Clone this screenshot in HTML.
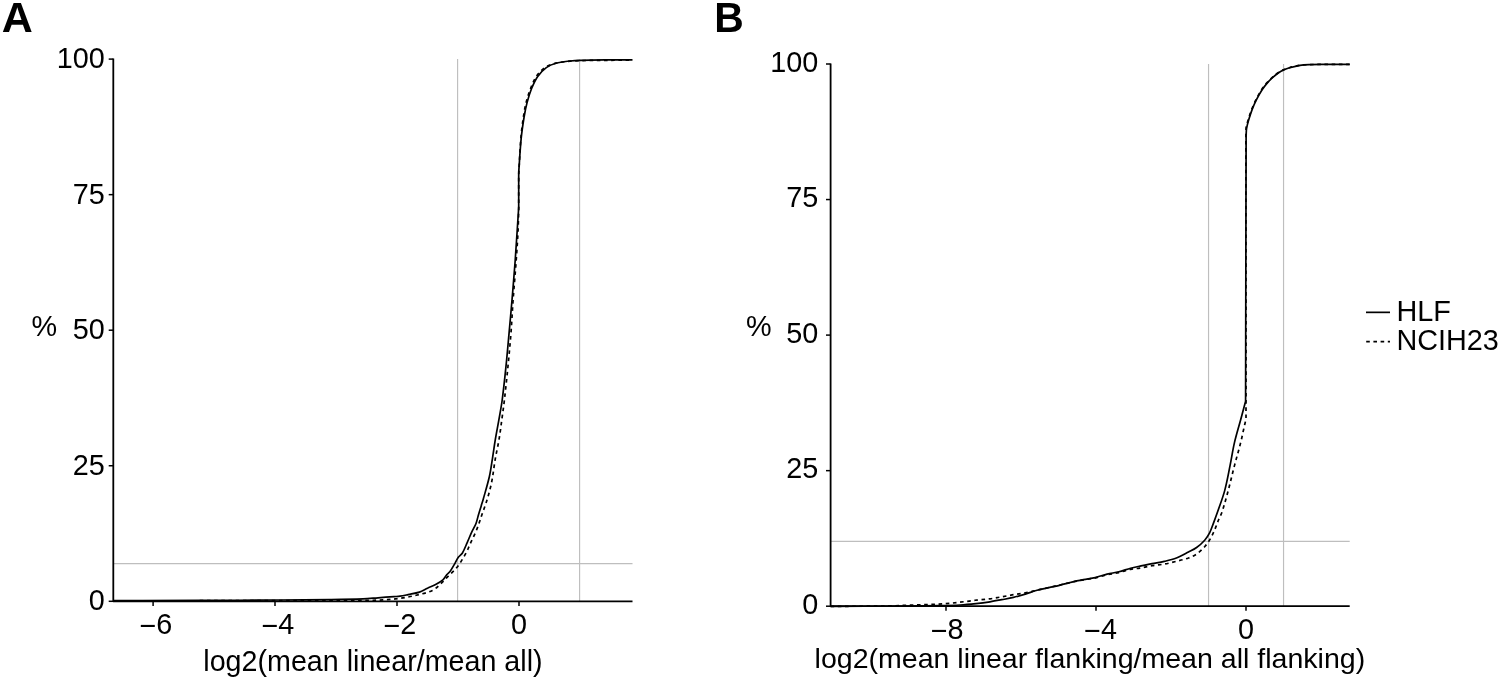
<!DOCTYPE html>
<html><head><meta charset="utf-8"><title>Cumulative distribution</title>
<style>html,body{margin:0;padding:0;background:#fff;} svg{display:block;will-change:transform;}</style></head>
<body>
<svg width="1499" height="680" viewBox="0 0 1499 680" font-family="&quot;Liberation Sans&quot;, sans-serif" fill="#000">
<rect width="1499" height="680" fill="#fff"/>
<line x1="457.6" y1="59.1" x2="457.6" y2="601.3" stroke="#bebebe" stroke-width="1.15"/>
<line x1="579.6" y1="59.1" x2="579.6" y2="601.3" stroke="#bebebe" stroke-width="1.15"/>
<line x1="113.3" y1="563.55" x2="632.5" y2="563.55" stroke="#bebebe" stroke-width="1.15"/>
<path d="M113.30,600.80 C175.53,600.73 237.77,600.72 300.00,600.60 C322.67,600.56 345.33,600.49 368.00,600.30 C373.00,600.26 378.00,600.15 383.00,599.90 C387.21,599.69 391.41,599.34 395.60,598.90 C398.65,598.58 401.68,598.13 404.70,597.60 C408.55,596.93 412.41,596.27 416.20,595.30 C421.66,593.90 427.29,592.87 432.40,590.50 C435.54,589.04 437.93,586.32 440.50,584.00 C443.34,581.44 445.91,578.61 448.60,575.90 C451.28,573.21 454.20,570.74 456.60,567.80 C459.06,564.78 461.04,561.40 463.10,558.10 C464.58,555.73 465.94,553.29 467.20,550.80 C468.05,549.12 468.63,547.32 469.40,545.60 C471.83,540.18 474.57,534.90 476.80,529.40 C478.74,524.59 480.20,519.60 481.90,514.70 C483.60,509.80 485.51,504.97 487.00,500.00 C488.74,494.19 490.40,488.34 491.60,482.40 C493.17,474.59 493.94,466.65 495.30,458.80 C496.41,452.41 497.94,446.10 499.00,439.70 C500.14,432.86 500.97,425.97 501.90,419.10 C502.77,412.74 503.67,406.38 504.40,400.00 C505.70,388.68 506.89,377.34 508.00,366.00 C509.05,355.27 510.07,344.54 510.90,333.80 C511.77,322.54 512.29,311.26 513.10,300.00 C513.99,287.66 515.11,275.34 516.00,263.00 C516.74,252.67 517.47,242.34 518.00,232.00 C518.37,224.67 518.47,217.33 518.70,210.00 L518.70,175.00 C519.43,162.67 519.90,150.31 520.90,138.00 C521.47,130.97 522.38,123.98 523.40,117.00 C524.08,112.30 524.84,107.60 526.00,103.00 C527.24,98.08 528.75,93.22 530.60,88.50 C532.29,84.20 533.95,79.79 536.60,76.00 C538.96,72.62 541.96,69.58 545.40,67.30 C548.53,65.22 552.25,64.10 555.90,63.20 C560.51,62.06 565.28,61.70 570.00,61.20 C573.52,60.83 577.06,60.68 580.60,60.60 C590.40,60.38 600.20,60.38 610.00,60.30 C617.50,60.24 625.00,60.23 632.50,60.20" fill="none" stroke="#000" stroke-width="1.7" stroke-dasharray="3.6 3.6" stroke-linejoin="round"/>
<path d="M113.30,600.60 C142.20,600.53 171.10,600.50 200.00,600.40 C226.67,600.30 253.33,600.16 280.00,600.00 C296.67,599.90 313.33,599.82 330.00,599.60 C341.00,599.45 352.01,599.31 363.00,598.90 C368.01,598.71 373.00,598.17 378.00,597.80 C383.33,597.40 388.67,596.99 394.00,596.60 C396.00,596.45 398.02,596.48 400.00,596.20 C402.72,595.81 405.41,595.17 408.10,594.60 C411.87,593.80 415.74,593.31 419.40,592.10 C422.25,591.16 424.78,589.46 427.50,588.20 C430.18,586.96 433.00,586.00 435.60,584.60 C438.15,583.23 440.74,581.83 442.90,579.90 C444.57,578.41 445.46,576.22 446.90,574.50 C447.90,573.31 449.28,572.45 450.20,571.20 C451.73,569.13 452.90,566.82 454.20,564.60 C455.61,562.19 456.68,559.58 458.30,557.30 C459.41,555.74 461.31,554.83 462.30,553.20 C464.32,549.87 465.61,546.15 467.20,542.60 C468.71,539.22 470.05,535.76 471.60,532.40 C472.98,529.39 474.80,526.58 476.00,523.50 C477.11,520.66 477.64,517.62 478.50,514.70 C479.37,511.76 480.30,508.83 481.20,505.90 C481.90,503.60 482.65,501.32 483.30,499.00 C485.39,491.51 487.68,484.08 489.40,476.50 C490.72,470.66 491.45,464.71 492.40,458.80 C493.42,452.44 494.24,446.05 495.30,439.70 C496.44,432.82 497.81,425.97 499.00,419.10 C500.11,412.74 501.35,406.40 502.20,400.00 C503.69,388.76 504.84,377.48 506.00,366.20 C507.11,355.41 508.02,344.60 509.00,333.80 C510.02,322.54 511.04,311.27 512.00,300.00 C513.04,287.67 514.07,275.34 515.00,263.00 C515.77,252.67 516.41,242.33 517.10,232.00 C517.65,223.80 518.17,215.60 518.70,207.40 L518.70,172.40 C519.53,161.00 520.09,149.58 521.20,138.20 C521.89,131.10 522.94,124.04 524.10,117.00 C524.88,112.27 525.78,107.54 527.00,102.90 C528.25,98.13 529.65,93.37 531.50,88.80 C533.22,84.54 535.07,80.26 537.70,76.50 C540.06,73.12 542.97,70.03 546.30,67.60 C549.14,65.52 552.51,64.14 555.90,63.20 C560.48,61.92 565.28,61.55 570.00,61.00 C573.52,60.59 577.06,60.40 580.60,60.30 C590.40,60.03 600.20,59.99 610.00,59.90 C617.50,59.83 625.00,59.83 632.50,59.80" fill="none" stroke="#000" stroke-width="1.7" stroke-linejoin="round"/>
<path d="M113.3,58.5 L113.3,601.3 L632.5,601.3" fill="none" stroke="#000" stroke-width="1.8" stroke-linejoin="round"/>
<line x1="108.7" y1="59.10" x2="113.3" y2="59.10" stroke="#000" stroke-width="1.5"/>
<line x1="108.7" y1="194.65" x2="113.3" y2="194.65" stroke="#000" stroke-width="1.5"/>
<line x1="108.7" y1="330.20" x2="113.3" y2="330.20" stroke="#000" stroke-width="1.5"/>
<line x1="108.7" y1="465.75" x2="113.3" y2="465.75" stroke="#000" stroke-width="1.5"/>
<line x1="108.7" y1="601.30" x2="113.3" y2="601.30" stroke="#000" stroke-width="1.5"/>
<line x1="153.1" y1="601.3" x2="153.1" y2="605.9" stroke="#000" stroke-width="1.5"/>
<line x1="275.0" y1="601.3" x2="275.0" y2="605.9" stroke="#000" stroke-width="1.5"/>
<line x1="397.0" y1="601.3" x2="397.0" y2="605.9" stroke="#000" stroke-width="1.5"/>
<line x1="519.0" y1="601.3" x2="519.0" y2="605.9" stroke="#000" stroke-width="1.5"/>
<line x1="1208.55" y1="64.0" x2="1208.55" y2="606.2" stroke="#bebebe" stroke-width="1.15"/>
<line x1="1283.55" y1="64.0" x2="1283.55" y2="606.2" stroke="#bebebe" stroke-width="1.15"/>
<line x1="830.6" y1="541.35" x2="1349.7" y2="541.35" stroke="#bebebe" stroke-width="1.15"/>
<path d="M830.60,606.30 C843.73,606.27 856.87,606.30 870.00,606.20 C878.33,606.14 886.67,606.03 895.00,605.80 C900.00,605.66 905.00,605.30 910.00,605.10 C916.00,604.86 922.00,604.73 928.00,604.50 C933.33,604.30 938.68,604.18 944.00,603.80 C949.35,603.42 954.67,602.80 960.00,602.20 C965.34,601.60 970.66,600.81 976.00,600.20 C980.66,599.67 985.35,599.41 990.00,598.80 C993.96,598.28 997.87,597.49 1001.80,596.80 C1005.70,596.12 1009.59,595.35 1013.50,594.70 C1017.43,594.05 1021.39,593.65 1025.30,592.90 C1029.23,592.15 1033.10,591.10 1037.00,590.20 C1040.93,589.30 1044.87,588.39 1048.80,587.50 C1052.63,586.63 1056.47,585.80 1060.30,584.90 C1064.14,584.00 1067.94,582.93 1071.80,582.10 C1075.68,581.26 1079.59,580.60 1083.50,579.90 C1087.43,579.20 1091.40,578.74 1095.30,577.90 C1099.28,577.04 1103.13,575.69 1107.10,574.80 C1110.97,573.93 1114.94,573.50 1118.80,572.60 C1122.78,571.67 1126.60,570.15 1130.60,569.30 C1133.69,568.64 1136.88,568.62 1140.00,568.10 C1144.06,567.42 1148.04,566.37 1152.10,565.70 C1156.15,565.03 1160.26,564.83 1164.30,564.10 C1168.37,563.36 1172.39,562.31 1176.40,561.30 C1180.45,560.28 1184.57,559.42 1188.50,558.00 C1191.33,556.98 1194.13,555.72 1196.60,554.00 C1199.58,551.92 1202.27,549.41 1204.70,546.70 C1206.90,544.24 1208.70,541.43 1210.40,538.60 C1211.95,536.02 1213.20,533.26 1214.40,530.50 C1215.90,527.06 1217.07,523.47 1218.50,520.00 C1219.64,517.24 1221.16,514.63 1222.10,511.80 C1224.40,504.82 1226.30,497.70 1228.20,490.60 C1230.40,482.40 1232.26,474.12 1234.40,465.90 C1236.40,458.22 1238.65,450.60 1240.60,442.90 C1241.68,438.63 1242.53,434.30 1243.50,430.00 C1244.33,426.33 1245.17,422.67 1246.00,419.00 C1245.97,325.33 1245.90,231.67 1245.90,138.00 C1245.90,136.00 1245.95,134.00 1246.00,132.00 C1246.05,130.33 1245.90,128.64 1246.20,127.00 C1246.67,124.48 1247.54,122.05 1248.30,119.60 C1249.34,116.25 1250.33,112.87 1251.60,109.60 C1252.90,106.23 1254.37,102.92 1256.00,99.70 C1257.71,96.32 1259.54,92.98 1261.60,89.80 C1263.24,87.27 1265.12,84.88 1267.10,82.60 C1268.80,80.64 1270.67,78.83 1272.60,77.10 C1274.35,75.53 1276.16,74.02 1278.10,72.70 C1279.70,71.61 1281.43,70.69 1283.20,69.90 C1285.17,69.02 1287.22,68.27 1289.30,67.70 C1292.83,66.73 1296.39,65.84 1300.00,65.30 C1303.30,64.81 1306.66,64.72 1310.00,64.60 C1315.00,64.42 1320.00,64.44 1325.00,64.40 C1333.23,64.34 1341.47,64.33 1349.70,64.30" fill="none" stroke="#000" stroke-width="1.7" stroke-dasharray="3.6 3.6" stroke-linejoin="round"/>
<path d="M830.60,606.30 C853.73,606.23 876.87,606.25 900.00,606.10 C913.33,606.01 926.67,605.84 940.00,605.60 C946.67,605.48 953.34,605.37 960.00,605.00 C965.35,604.70 970.68,604.17 976.00,603.60 C980.68,603.10 985.35,602.50 990.00,601.80 C993.95,601.20 997.87,600.44 1001.80,599.70 C1005.71,598.97 1009.63,598.32 1013.50,597.40 C1017.47,596.45 1021.39,595.28 1025.30,594.10 C1029.26,592.91 1033.12,591.40 1037.10,590.30 C1040.96,589.23 1044.89,588.48 1048.80,587.60 C1052.63,586.74 1056.48,586.01 1060.30,585.10 C1064.15,584.18 1067.94,583.00 1071.80,582.10 C1075.68,581.20 1079.59,580.45 1083.50,579.70 C1087.42,578.95 1091.41,578.52 1095.30,577.60 C1099.29,576.65 1103.12,575.08 1107.10,574.10 C1110.96,573.15 1114.94,572.77 1118.80,571.80 C1122.79,570.80 1126.63,569.27 1130.60,568.20 C1133.70,567.37 1136.86,566.76 1140.00,566.10 C1144.02,565.26 1148.06,564.48 1152.10,563.70 C1156.16,562.91 1160.27,562.35 1164.30,561.40 C1168.38,560.44 1172.49,559.52 1176.40,558.00 C1180.60,556.37 1184.51,554.08 1188.50,552.00 C1191.24,550.58 1194.10,549.32 1196.60,547.50 C1199.54,545.36 1202.28,542.91 1204.70,540.20 C1206.65,538.01 1208.25,535.50 1209.60,532.90 C1211.13,529.94 1212.12,526.72 1213.30,523.60 C1214.78,519.69 1216.23,515.76 1217.60,511.80 C1220.03,504.76 1222.76,497.79 1224.70,490.60 C1226.90,482.47 1228.32,474.15 1230.00,465.90 C1231.56,458.25 1232.64,450.51 1234.40,442.90 C1236.18,435.19 1238.54,427.64 1240.60,420.00 C1242.28,413.77 1243.93,407.53 1245.60,401.30 C1245.77,314.20 1245.90,227.10 1246.10,140.00 C1246.10,138.00 1246.11,136.00 1246.20,134.00 C1246.28,132.13 1246.27,130.24 1246.60,128.40 C1247.14,125.42 1247.95,122.50 1248.80,119.60 C1249.79,116.23 1250.83,112.87 1252.10,109.60 C1253.40,106.23 1254.87,102.92 1256.50,99.70 C1258.21,96.32 1260.04,92.98 1262.10,89.80 C1263.74,87.27 1265.62,84.88 1267.60,82.60 C1269.30,80.64 1271.17,78.83 1273.10,77.10 C1274.85,75.53 1276.66,74.03 1278.60,72.70 C1280.18,71.62 1281.86,70.69 1283.60,69.90 C1285.54,69.02 1287.55,68.28 1289.60,67.70 C1293.03,66.74 1296.48,65.83 1300.00,65.30 C1303.30,64.80 1306.66,64.72 1310.00,64.60 C1315.00,64.42 1320.00,64.44 1325.00,64.40 C1333.23,64.34 1341.47,64.33 1349.70,64.30" fill="none" stroke="#000" stroke-width="1.7" stroke-linejoin="round"/>
<path d="M830.6,63.4 L830.6,606.2 L1349.7,606.2" fill="none" stroke="#000" stroke-width="1.8" stroke-linejoin="round"/>
<line x1="826.0" y1="64.00" x2="830.6" y2="64.00" stroke="#000" stroke-width="1.5"/>
<line x1="826.0" y1="199.55" x2="830.6" y2="199.55" stroke="#000" stroke-width="1.5"/>
<line x1="826.0" y1="335.10" x2="830.6" y2="335.10" stroke="#000" stroke-width="1.5"/>
<line x1="826.0" y1="470.65" x2="830.6" y2="470.65" stroke="#000" stroke-width="1.5"/>
<line x1="826.0" y1="606.20" x2="830.6" y2="606.20" stroke="#000" stroke-width="1.5"/>
<line x1="946.0" y1="606.2" x2="946.0" y2="610.8000000000001" stroke="#000" stroke-width="1.5"/>
<line x1="1096.0" y1="606.2" x2="1096.0" y2="610.8000000000001" stroke="#000" stroke-width="1.5"/>
<line x1="1246.0" y1="606.2" x2="1246.0" y2="610.8000000000001" stroke="#000" stroke-width="1.5"/>

<line x1="1366" y1="312.35" x2="1390" y2="312.35" stroke="#000" stroke-width="1.7"/>
<line x1="1366.2" y1="341.55" x2="1390" y2="341.55" stroke="#000" stroke-width="1.7" stroke-dasharray="3.6 3.6"/>



<text transform="translate(56.70,68.10) scale(1,1.05)" font-size="28.8">100</text>
<text transform="translate(770.35,71.50) scale(1,1.05)" font-size="28.8">100</text>
<text transform="translate(72.70,203.65) scale(1,1.05)" font-size="28.8">75</text>
<text transform="translate(786.35,207.05) scale(1,1.05)" font-size="28.8">75</text>
<text transform="translate(72.70,339.20) scale(1,1.05)" font-size="28.8">50</text>
<text transform="translate(786.35,342.60) scale(1,1.05)" font-size="28.8">50</text>
<text transform="translate(72.70,474.75) scale(1,1.05)" font-size="28.8">25</text>
<text transform="translate(786.35,478.15) scale(1,1.05)" font-size="28.8">25</text>
<text transform="translate(88.70,610.30) scale(1,1.05)" font-size="28.8">0</text>
<text transform="translate(802.35,613.70) scale(1,1.05)" font-size="28.8">0</text>
<text transform="translate(139.50,634.05) scale(1,1.05)" font-size="28.8"><tspan dy="2.2">−</tspan><tspan dy="-2.2">6</tspan></text>
<text transform="translate(261.40,634.05) scale(1,1.05)" font-size="28.8"><tspan dy="2.2">−</tspan><tspan dy="-2.2">4</tspan></text>
<text transform="translate(383.40,634.05) scale(1,1.05)" font-size="28.8"><tspan dy="2.2">−</tspan><tspan dy="-2.2">2</tspan></text>
<text transform="translate(510.90,634.05) scale(1,1.05)" font-size="28.8">0</text>
<text transform="translate(930.80,639.00) scale(1,1.05)" font-size="28.8"><tspan dy="2.2">−</tspan><tspan dy="-2.2">8</tspan></text>
<text transform="translate(1084.10,639.00) scale(1,1.05)" font-size="28.8"><tspan dy="2.2">−</tspan><tspan dy="-2.2">4</tspan></text>
<text transform="translate(1238.05,639.00) scale(1,1.05)" font-size="28.8">0</text>
<text transform="translate(31.55,335.90) scale(1,1.03)" font-size="28.8">%</text>
<text transform="translate(746.05,336.00) scale(1,1.03)" font-size="28.8">%</text>
<text transform="translate(203.30,671.00) scale(1,1)" font-size="28.66">log2(mean linear/mean all)</text>
<text transform="translate(814.55,668.00) scale(1,1)" font-size="28.56">log2(mean linear flanking/mean all flanking)</text>
<text transform="translate(1396.40,320.60) scale(1,1.03)" font-size="28.8">HLF</text>
<text transform="translate(1396.40,350.20) scale(1,1.05)" font-size="28.8">NCIH23</text>
<text transform="translate(1.85,31.70) scale(1.0,1.0)" font-size="43" font-weight="bold">A</text>
<text transform="translate(714.15,31.70) scale(0.95,1.0)" font-size="43" font-weight="bold">B</text>
</svg>
</body></html>
